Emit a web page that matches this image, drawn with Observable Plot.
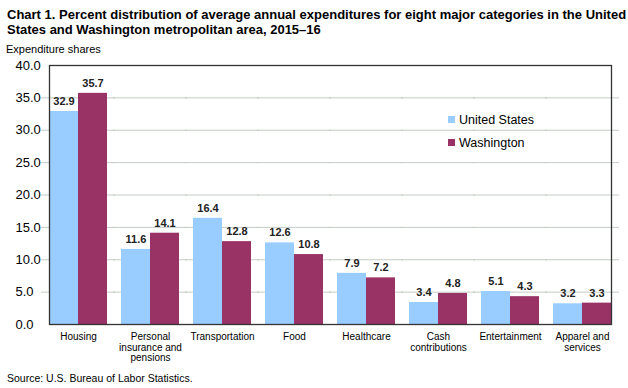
<!DOCTYPE html>
<html>
<head>
<meta charset="utf-8">
<script src="https://cdn.jsdelivr.net/npm/d3@7"></script>
<script src="https://cdn.jsdelivr.net/npm/@observablehq/plot@0.6"></script>
<style>
  html, body { margin: 0; padding: 0; background: #fff; }
  #wrap { position: relative; width: 628px; height: 388px; font-family: "Liberation Sans", Arial, sans-serif; color: #000; }
  #title { position: absolute; left: 7px; top: 7px; font-family: "Liberation Sans Narrow", "Arial Narrow", "Liberation Sans", sans-serif; font-weight: bold; font-size: 13px; line-height: 15px; white-space: nowrap; }
  #ylabel { position: absolute; left: 6px; top: 43px; font-size: 11px; }
  #source { position: absolute; left: 7px; top: 372px; font-size: 10.5px; }
  #legend { position: absolute; left: 448px; top: 108px; font-size: 12.5px; }
  #legend div { height: 23px; display: flex; align-items: center; }
  #legend span.sw { display: inline-block; width: 7px; height: 7px; margin-right: 4px; }
  #chart { position: absolute; left: 0; top: 0; }
</style>
</head>
<body>
<div id="wrap">
  <div id="chart"></div>
  <div id="title">Chart 1. Percent distribution of average annual expenditures for eight major categories in the United<br>States and Washington metropolitan area, 2015–16</div>
  <div id="ylabel">Expenditure shares</div>
  <div id="legend"></div>
  <div id="source">Source: U.S. Bureau of Labor Statistics.</div>
</div>
<script>
const categories = ["Housing", "Personal insurance and pensions", "Transportation", "Food", "Healthcare", "Cash contributions", "Entertainment", "Apparel and services"];
const categoryLabels = ["Housing", "Personal\ninsurance and\npensions", "Transportation", "Food", "Healthcare", "Cash\ncontributions", "Entertainment", "Apparel and\nservices"];
const seriesNames = ["United States", "Washington"];
const usValues = [32.9, 11.6, 16.4, 12.6, 7.9, 3.4, 5.1, 3.2];
const washingtonValues = [35.7, 14.1, 12.8, 10.8, 7.2, 4.8, 4.3, 3.3];
const yTicks = [0, 5, 10, 15, 20, 25, 30, 35, 40];
const colors = ["#99ccff", "#993366"];

const data = [];
categories.forEach((c, i) => {
  data.push({category: c, series: seriesNames[0], value: usValues[i]});
  data.push({category: c, series: seriesNames[1], value: washingtonValues[i]});
});
const labelMap = new Map(categories.map((c, i) => [c, categoryLabels[i]]));
const gridValues = yTicks.filter(d => d > 0 && d < 40);

const chart = Plot.plot({
  width: 628,
  height: 388,
  marginLeft: 40,
  marginRight: 8,
  marginTop: 65,
  marginBottom: 64,
  style: {fontFamily: "Liberation Sans, Arial, sans-serif", background: "transparent"},
  fx: {domain: categories, paddingInner: 0.2, paddingOuter: 0.1, label: null},
  x: {domain: seriesNames, padding: 0, axis: null},
  y: {domain: [0, 40], label: null},
  color: {domain: seriesNames, range: colors},
  marks: [
    Plot.ruleY(gridValues, {stroke: "#c4ccc4", strokeWidth: 1, insetLeft: -8, insetRight: -8}),
    Plot.barY(data, {fx: "category", x: "series", y: "value", fill: "series"}),
    Plot.text(data, {fx: "category", x: "series", y: "value", text: d => d.value.toFixed(1), dy: -10, fontWeight: "bold", fontSize: 11, fill: "#222"}),
    Plot.axisY({ticks: yTicks, tickFormat: d => d.toFixed(1), tickSize: 0, tickPadding: 0, textAnchor: "start", dx: -34, fontSize: 13, fill: "#000"}),
    Plot.axisFx({anchor: "bottom", tickSize: 0, tickPadding: 8, tickFormat: d => labelMap.get(d), fontSize: 10, lineHeight: 1.07, fill: "#000"}),
    Plot.frame({facet: "super", stroke: "#333", strokeWidth: 1.3})
  ]
});
document.getElementById("chart").appendChild(chart);

const legend = document.getElementById("legend");
seriesNames.forEach((s, i) => {
  const row = document.createElement("div");
  const sw = document.createElement("span");
  sw.className = "sw";
  sw.style.background = colors[i];
  row.appendChild(sw);
  row.appendChild(document.createTextNode(s));
  legend.appendChild(row);
});
</script>
</body>
</html>
